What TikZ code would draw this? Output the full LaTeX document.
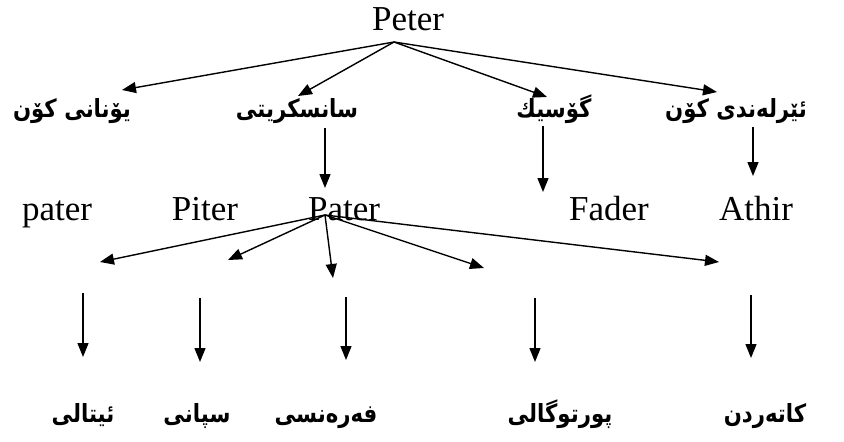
\documentclass[tikz,border=0pt]{standalone}
\usepackage{fontspec}
\setmainfont{Liberation Serif}
\newfontfamily\arabicfont[Script=Arabic,FakeStretch=0.85]{DejaVu Sans}
\TeXXeTstate=1
\usetikzlibrary{arrows.meta}
\begin{document}
\begin{tikzpicture}[x=1pt,y=-1pt,
  lat/.style={inner sep=0pt,anchor=base,font=\fontsize{35}{35}\selectfont},
  kur/.style={inner sep=0pt,anchor=base,font=\arabicfont\bfseries\fontsize{25}{27}\selectfont},
  arr/.style={line width=1.4pt,-{Triangle[length=14pt,width=11pt]}}]
\useasboundingbox (0,0) rectangle (844,442);
% top
\node[lat] (peter) at (408,30) {Peter};
\coordinate (p0) at (394,42);
% row 1 (Kurdish)
\node[kur] (greek) at (72,117) {\beginR یۆنانی کۆن\endR};
\node[kur] (sansk) at (297,117) {\beginR سانسکریتی\endR};
\node[kur] (goth) at (554,117) {\beginR گۆسیك\endR};
\node[kur] (irish) at (736,117) {\beginR ئێرلەندی کۆن\endR};
\coordinate (t1) at (122,90);
\coordinate (t2) at (298,96);
\coordinate (t3) at (547,97);
\coordinate (t4) at (717,92);
\draw[arr] (p0) -- (t1);
\draw[arr] (p0) -- (t2);
\draw[arr] (p0) -- (t3);
\draw[arr] (p0) -- (t4);
% row 1 -> row 2
\coordinate (s1) at (325,128); \coordinate (s2) at (325,188);
\coordinate (g1) at (543,126); \coordinate (g2) at (543,192);
\coordinate (i1) at (753,127); \coordinate (i2) at (753,176);
\draw[arr] (s1) -- (s2);
\draw[arr] (g1) -- (g2);
\draw[arr] (i1) -- (i2);
% row 2 (Latin)
\node[lat] (pater) at (57,220) {pater};
\node[lat] (piter) at (205,220) {Piter};
\node[lat] (Pater) at (344,220) {Pater};
\node[lat] (fader) at (609,220) {Fader};
\node[lat] (athir) at (756,220) {Athir};
\coordinate (q0) at (325,215);
\coordinate (u1) at (100,262);
\coordinate (u2) at (228,260);
\coordinate (u3) at (333,278);
\coordinate (u4) at (484,268);
\coordinate (u5) at (719,262);
\draw[arr] (q0) -- (u1);
\draw[arr] (q0) -- (u2);
\draw[arr] (q0) -- (u3);
\draw[arr] (q0) -- (u4);
\draw[arr] (q0) -- (u5);
% row 3 arrows
\coordinate (a1) at (83,293);  \coordinate (b1) at (83,357);
\coordinate (a2) at (200,298); \coordinate (b2) at (200,362);
\coordinate (a3) at (346,297); \coordinate (b3) at (346,360);
\coordinate (a4) at (535,298); \coordinate (b4) at (535,362);
\coordinate (a5) at (751,295); \coordinate (b5) at (751,358);
\draw[arr] (a1) -- (b1);
\draw[arr] (a2) -- (b2);
\draw[arr] (a3) -- (b3);
\draw[arr] (a4) -- (b4);
\draw[arr] (a5) -- (b5);
% bottom (Kurdish)
\node[kur] (ital) at (83,422) {\beginR ئیتالی\endR};
\node[kur] (span) at (197,422) {\beginR سپانی\endR};
\node[kur] (fren) at (326,422) {\beginR فەرەنسی\endR};
\node[kur] (port) at (560,422) {\beginR پورتوگالی\endR};
\node[kur] (cata) at (765,422) {\beginR کاتەردن\endR};
\end{tikzpicture}
\end{document}
